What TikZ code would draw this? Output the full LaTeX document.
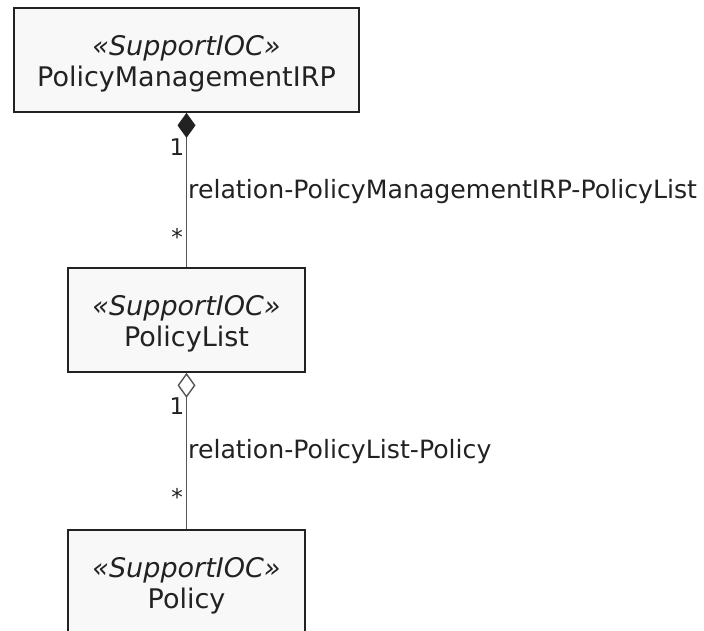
\documentclass[tikz,border=0pt]{standalone}
\usepackage{fontspec}
\setmainfont{DejaVu Sans}
\usepackage{tikz}
\usetikzlibrary{arrows.meta}

\definecolor{boxfill}{HTML}{F8F8F8}
\definecolor{boxline}{HTML}{222222}
\definecolor{linkline}{HTML}{555555}
\newcommand\stereo[1]{\rule{0pt}{27pt}\textit{«#1»}}

\begin{document}
\begin{tikzpicture}[x=1pt, y=-1pt,
    ioc/.style={shape=rectangle, draw=boxline, fill=boxfill, line width=1.7pt,
      minimum height=104pt, align=center, text=boxline,
      font=\fontsize{27}{31}\selectfont, inner sep=0pt},
    rel/.style={anchor=west, text=boxline, font=\fontsize{25.2}{28}\selectfont, inner sep=0pt},
    mult/.style={text=boxline, font=\fontsize{23}{26}\selectfont, inner sep=0pt},
    link/.style={draw=linkline, line width=1.8pt}]
  \clip (0, 0) rectangle (704, 631);
  \fill[white] (0, 0) rectangle (704, 631);
  \node (irp) at (186.5, 60) [ioc, minimum width=345pt] {\stereo{SupportIOC}\\PolicyManagementIRP};
  \node (list) at (186.5, 320) [ioc, minimum width=237pt] {\stereo{SupportIOC}\\PolicyList};
  \node (policy) at (186.5, 582) [ioc, minimum width=237pt] {\stereo{SupportIOC}\\Policy};
  \draw[link, -{Diamond[length=25pt, width=18pt, fill=boxline, color=boxline]}] (list.north) -- (irp.south);
  \draw[link, -{Diamond[open, length=25pt, width=18pt, fill=white, color=linkline, line width=1.4pt]}] (policy.north) -- (list.south);
  \node (relirp) at (188, 192) [rel] {relation-PolicyManagementIRP-PolicyList};
  \node (rellist) at (188, 452) [rel] {relation-PolicyList-Policy};
  \node (irp1) at (177, 147) [mult] {1};
  \node (irpn) at (177, 237) [mult] {*};
  \node (list1) at (177, 406) [mult] {1};
  \node (listn) at (177, 497) [mult] {*};
\end{tikzpicture}
\end{document}
